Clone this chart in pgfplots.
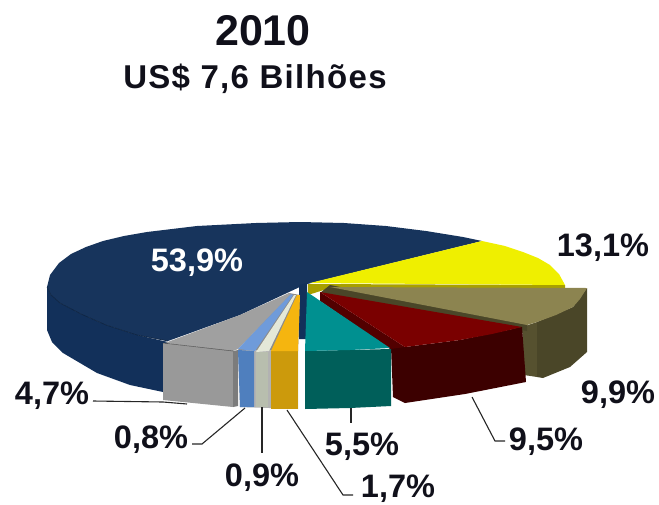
\documentclass[border=0pt]{standalone}
\usepackage{pgfplots}
\pgfplotsset{compat=1.18}
\usepackage{fontspec}
\setmainfont{Liberation Sans}
\definecolor{navyT}{HTML}{17345C}
\definecolor{navyS}{HTML}{12305A}
\definecolor{yel}{HTML}{EFEF00}
\definecolor{yelS}{HTML}{A8A000}
\definecolor{oliT}{HTML}{8C8450}
\definecolor{oliS}{HTML}{4A4628}
\definecolor{oliM}{HTML}{56512F}
\definecolor{redT}{HTML}{7A0000}
\definecolor{redS}{HTML}{3C0000}
\definecolor{redM}{HTML}{520000}
\definecolor{tealT}{HTML}{009090}
\definecolor{tealS}{HTML}{005F5A}
\definecolor{greyT}{HTML}{A0A0A0}
\definecolor{greyS}{HTML}{999999}
\definecolor{greyE}{HTML}{7C7C7C}
\definecolor{bluT}{HTML}{6F9BDA}
\definecolor{bluS}{HTML}{4F7FBE}
\definecolor{palT}{HTML}{E4E8D8}
\definecolor{palS}{HTML}{B8BEAE}
\definecolor{oraT}{HTML}{F5B50F}
\definecolor{oraS}{HTML}{CC9A0C}
\definecolor{txt}{HTML}{10101A}
\newcommand{\lab}[1]{\fontsize{32.5}{32.5}\selectfont\bfseries #1}
\begin{document}
\begin{tikzpicture}
\path[use as bounding box] (0,0) rectangle (659pt,504pt);
\begin{axis}[anchor=south west,at={(0,0)},scale only axis,width=659pt,height=504pt,xmin=0,xmax=659,ymin=0,ymax=504,y dir=reverse,hide axis,clip=true]
% navy side
\addplot[fill=navyS,draw=none] coordinates {(47,287)(47,330)(52,342)(63,353)(97,373)(130,385)(163,392)(168,392)(168,342)(137,335)(106,325)(81,314)(60,303)(51,295)} --cycle;
% navy top
\addplot[fill=navyT,draw=none] coordinates {(168,341)(137,335)(106,325)(81,314)(60,303)(51,295)(47,287)(50,275)(59,263)(71,254)(86,247)(103,241)(124,236)(147,232)(197,226)(256,223)(300,222)(344,223)(386,226)(426,231)(463,237)(482,241)(311,283)(304,285)(240,315)} --cycle;
\addplot[navyS!70!black,line width=0.6pt] coordinates {(168,341)(137,335)(106,325)(81,314)(60,303)(51,295)(47,287)};
% navy inner wall
\addplot[fill=navyS,draw=none] coordinates {(299,285)(307,283)(307,339)(299,339)} --cycle;
% yellow side and top
\addplot[fill=yelS,draw=none] coordinates {(308,284)(565,285)(565,288)(330,288)(308,295)} --cycle;
\addplot[fill=yel,draw=none] coordinates {(310,283)(482,241)(505,246)(523,252)(538,258)(550,265)(559,274)(565,285)} --cycle;
% olive
\addplot[fill=oliM,draw=none] coordinates {(522,327)(537,322)(537,377)(524,375)} --cycle;
\addplot[fill=oliS,draw=none] coordinates {(537,322)(573,307)(587,288)(587,352)(570,367)(543,378)(537,377)} --cycle;
\addplot[fill=oliS,draw=none] coordinates {(330,285)(527,323)(527,331)(320,293)} --cycle;
\addplot[fill=oliT,draw=none] coordinates {(330,287)(587,288)(580,299)(573,307)(556,315)(537,322)(527,325)} --cycle;
% red
\addplot[fill=redS,draw=none] coordinates {(391,347)(405,347)(405,403)(393,397)} --cycle;
\addplot[fill=redS,draw=none] coordinates {(405,347)(460,340)(522,327)(526,382)(465,394)(405,403)} --cycle;
\addplot[fill=redM,draw=none] coordinates {(320,292)(405,347)(390,349)(320,301)} --cycle;
\addplot[fill=redT,draw=none] coordinates {(320,292)(522,327)(492,334)(460,340)(405,347)} --cycle;
% teal
\addplot[fill=tealS,draw=none] coordinates {(305,351)(391,349)(391,406)(350,408)(305,409)} --cycle;
\addplot[fill=tealT,draw=none] coordinates {(307,292)(390,348)(350,350)(305,351)} --cycle;
% grey
\addplot[fill=greyS,draw=none] coordinates {(163,343)(233,351)(233,407)(163,400)} --cycle;
\addplot[fill=greyE,draw=none] coordinates {(233,351)(238,350)(238,406)(233,407)} --cycle;
% backing under the thin slices
\addplot[fill=black!45,draw=none] coordinates {(238,350)(298,351)(300,295)(289,293)} --cycle;
\addplot[fill=black!30,draw=none] coordinates {(238,350)(298,351)(298,409)(240,407)} --cycle;
\addplot[fill=greyT,draw=none] coordinates {(165,343)(240,315)(289,293)(291,294)(238,349)(233,351)} --cycle;
\addplot[black!70,line width=0.5pt] coordinates {(163,343)(233,351)};
% blue
\addplot[fill=bluS,draw=none] coordinates {(238,350)(254,351)(254,407)(240,407)} --cycle;
\addplot[fill=bluT,draw=none] coordinates {(238,349)(255,351)(293,295)(291,294)} --cycle;
% pale
\addplot[fill=palS,draw=none] coordinates {(256,352)(268,352)(268,407)(256,407)} --cycle;
\addplot[fill=palT,draw=none] coordinates {(256,352)(269,351)(296,295)(294,295)} --cycle;
% orange
\addplot[fill=oraS,draw=none] coordinates {(271,351)(298,351)(298,409)(271,409)} --cycle;
\addplot[fill=oraT,draw=none] coordinates {(271,351)(298,351)(300,295)(297,295)} --cycle;
% leader lines
\addplot[black!85,line width=1.1pt] coordinates {(93,401)(163,402)(187,404)};
\addplot[black!85,line width=1.1pt] coordinates {(192,444)(202,444)(245,408)};
\addplot[black!85,line width=1.1pt] coordinates {(262,407)(262,453)};
\addplot[black!85,line width=1.1pt] coordinates {(287,410)(343,495)(353,495)};
\addplot[black!85,line width=1.1pt] coordinates {(351,408)(351,423)};
\addplot[black!85,line width=1.1pt] coordinates {(472,397)(495,441)(505,441)};
% labels
\node[anchor=base,txt] at (axis cs:263,45) {\fontsize{43}{43}\selectfont\bfseries 2010};
\node[anchor=base,txt] at (axis cs:255,88) {\addfontfeature{LetterSpace=4}\fontsize{33}{33}\selectfont\bfseries US\$ 7,6 Bilhões};
\node[anchor=base,white] at (axis cs:197,271) {\lab{53,9\%}};
\node[anchor=base,txt] at (axis cs:603,256) {\lab{13,1\%}};
\node[anchor=base,txt] at (axis cs:618,403) {\lab{9,9\%}};
\node[anchor=base,txt] at (axis cs:546,450) {\lab{9,5\%}};
\node[anchor=base,txt] at (axis cs:362,455) {\lab{5,5\%}};
\node[anchor=base,txt,inner sep=0pt] at (axis cs:398,497) {\lab{1,7\%}};
\node[anchor=base,txt] at (axis cs:262,486) {\lab{0,9\%}};
\node[anchor=base,txt] at (axis cs:151,448) {\lab{0,8\%}};
\node[anchor=base,txt] at (axis cs:52,404) {\lab{4,7\%}};
\end{axis}
\end{tikzpicture}
\end{document}
